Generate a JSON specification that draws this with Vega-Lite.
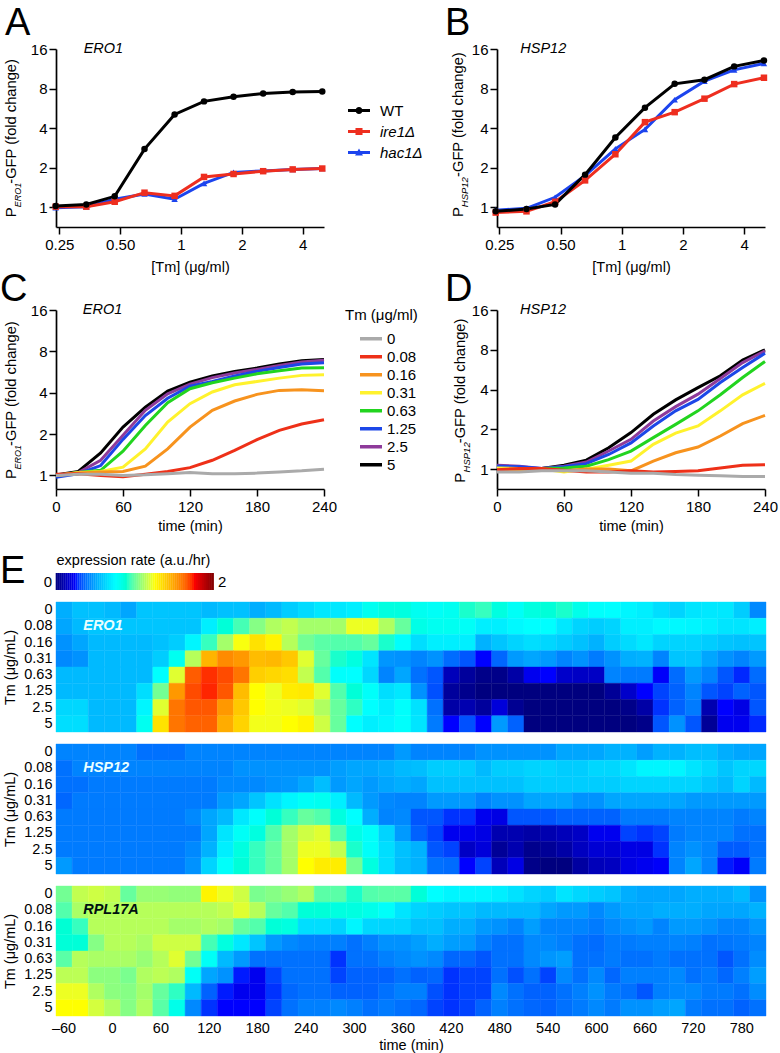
{"$schema":"https://vega.github.io/schema/vega-lite/v6.json","background":"white","padding":{"left":0,"top":5,"right":5,"bottom":5},"spacing":-3,
"config":{"font":"Liberation Sans","view":{"stroke":null},"axis":{"grid":false,"domainColor":"black","domainWidth":1.7,"tickColor":"black","tickWidth":1.5,"tickSize":7,"labelFont":"Liberation Sans","labelFontSize":15,"labelColor":"black","labelPadding":2,"titleFont":"Liberation Sans","titleFontSize":14.5,"titleFontWeight":"normal","titleColor":"black"},"title":{"font":"Liberation Sans","fontSize":38,"fontWeight":"normal","anchor":"start","frame":"group","color":"black"},"legend":{"labelFont":"Liberation Sans","labelFontSize":15,"labelColor":"black","titleFont":"Liberation Sans","titleFontSize":15,"titleFontWeight":"normal","titleColor":"black"}},
"datasets":{
"dose":[{"s":"hac1Δ","x":0.24,"A":0.99,"B":0.95},{"s":"hac1Δ","x":0.34,"A":1.01,"B":0.98},{"s":"hac1Δ","x":0.47,"A":1.15,"B":1.19},{"s":"hac1Δ","x":0.66,"A":1.26,"B":1.74},{"s":"hac1Δ","x":0.93,"A":1.15,"B":2.78},{"s":"hac1Δ","x":1.3,"A":1.52,"B":3.91},{"s":"hac1Δ","x":1.82,"A":1.84,"B":6.58},{"s":"hac1Δ","x":2.55,"A":1.89,"B":9.1},{"s":"hac1Δ","x":3.57,"A":1.94,"B":11.1},{"s":"hac1Δ","x":5.0,"A":1.97,"B":12.4},
{"s":"ire1Δ","x":0.24,"A":1.01,"B":0.91},{"s":"ire1Δ","x":0.34,"A":1.01,"B":0.93},{"s":"ire1Δ","x":0.47,"A":1.1,"B":1.1},{"s":"ire1Δ","x":0.66,"A":1.29,"B":1.6},{"s":"ire1Δ","x":0.93,"A":1.22,"B":2.53},{"s":"ire1Δ","x":1.3,"A":1.7,"B":4.44},{"s":"ire1Δ","x":1.82,"A":1.79,"B":5.29},{"s":"ire1Δ","x":2.55,"A":1.88,"B":6.7},{"s":"ire1Δ","x":3.57,"A":1.94,"B":8.65},{"s":"ire1Δ","x":5.0,"A":1.97,"B":9.67},
{"s":"WT","x":0.24,"A":1.02,"B":0.93},{"s":"WT","x":0.34,"A":1.05,"B":0.97},{"s":"WT","x":0.47,"A":1.21,"B":1.05},{"s":"WT","x":0.66,"A":2.77,"B":1.77},{"s":"WT","x":0.93,"A":5.08,"B":3.39},{"s":"WT","x":1.3,"A":6.39,"B":5.72},{"s":"WT","x":1.82,"A":6.94,"B":8.69},{"s":"WT","x":2.55,"A":7.35,"B":9.34},{"s":"WT","x":3.57,"A":7.52,"B":11.8},{"s":"WT","x":5.0,"A":7.6,"B":13.1}],
"time":[{"c":"5","t":0,"C":1.01,"D":1.0},{"c":"5","t":20,"C":1.07,"D":1.01},{"c":"5","t":40,"C":1.46,"D":1.01},{"c":"5","t":60,"C":2.25,"D":1.07},{"c":"5","t":80,"C":3.14,"D":1.17},{"c":"5","t":100,"C":4.11,"D":1.45},{"c":"5","t":120,"C":4.78,"D":1.89},{"c":"5","t":140,"C":5.29,"D":2.6},{"c":"5","t":160,"C":5.72,"D":3.34},{"c":"5","t":180,"C":6.05,"D":4.14},{"c":"5","t":200,"C":6.47,"D":5.08},{"c":"5","t":220,"C":6.83,"D":6.68},{"c":"5","t":240,"C":6.98,"D":8.0},
{"c":"2.5","t":0,"C":1.0,"D":1.07},{"c":"2.5","t":20,"C":1.05,"D":1.05},{"c":"2.5","t":40,"C":1.29,"D":1.01},{"c":"2.5","t":60,"C":1.96,"D":1.05},{"c":"2.5","t":80,"C":2.98,"D":1.13},{"c":"2.5","t":100,"C":3.93,"D":1.37},{"c":"2.5","t":120,"C":4.62,"D":1.68},{"c":"2.5","t":140,"C":5.15,"D":2.31},{"c":"2.5","t":160,"C":5.56,"D":2.97},{"c":"2.5","t":180,"C":5.91,"D":3.69},{"c":"2.5","t":200,"C":6.32,"D":4.85},{"c":"2.5","t":220,"C":6.7,"D":6.4},{"c":"2.5","t":240,"C":6.88,"D":7.85},
{"c":"1.25","t":0,"C":0.97,"D":1.05},{"c":"1.25","t":20,"C":1.03,"D":1.04},{"c":"1.25","t":40,"C":1.18,"D":1.01},{"c":"1.25","t":60,"C":1.83,"D":1.04},{"c":"1.25","t":80,"C":2.73,"D":1.1},{"c":"1.25","t":100,"C":3.65,"D":1.29},{"c":"1.25","t":120,"C":4.47,"D":1.58},{"c":"1.25","t":140,"C":4.84,"D":2.12},{"c":"1.25","t":160,"C":5.29,"D":2.76},{"c":"1.25","t":180,"C":5.72,"D":3.37},{"c":"1.25","t":200,"C":6.11,"D":4.52},{"c":"1.25","t":220,"C":6.47,"D":5.87},{"c":"1.25","t":240,"C":6.62,"D":7.53},
{"c":"0.63","t":0,"C":1.0,"D":1.0},{"c":"0.63","t":20,"C":1.05,"D":1.01},{"c":"0.63","t":40,"C":1.09,"D":1.01},{"c":"0.63","t":60,"C":1.5,"D":1.02},{"c":"0.63","t":80,"C":2.31,"D":1.05},{"c":"0.63","t":100,"C":3.38,"D":1.18},{"c":"0.63","t":120,"C":4.28,"D":1.37},{"c":"0.63","t":140,"C":4.73,"D":1.73},{"c":"0.63","t":160,"C":5.11,"D":2.18},{"c":"0.63","t":180,"C":5.49,"D":2.76},{"c":"0.63","t":200,"C":5.78,"D":3.65},{"c":"0.63","t":220,"C":6.05,"D":4.93},{"c":"0.63","t":240,"C":6.08,"D":6.53},
{"c":"0.31","t":0,"C":1.0,"D":1.02},{"c":"0.31","t":20,"C":1.05,"D":1.01},{"c":"0.31","t":40,"C":1.07,"D":1.0},{"c":"0.31","t":60,"C":1.15,"D":0.95},{"c":"0.31","t":80,"C":1.56,"D":1.0},{"c":"0.31","t":100,"C":2.45,"D":1.07},{"c":"0.31","t":120,"C":3.33,"D":1.15},{"c":"0.31","t":140,"C":4.05,"D":1.54},{"c":"0.31","t":160,"C":4.57,"D":1.87},{"c":"0.31","t":180,"C":4.83,"D":2.12},{"c":"0.31","t":200,"C":5.11,"D":2.76},{"c":"0.31","t":220,"C":5.35,"D":3.65},{"c":"0.31","t":240,"C":5.41,"D":4.46},
{"c":"0.16","t":0,"C":1.0,"D":0.98},{"c":"0.16","t":20,"C":1.04,"D":0.99},{"c":"0.16","t":40,"C":1.06,"D":1.0},{"c":"0.16","t":60,"C":1.07,"D":0.97},{"c":"0.16","t":80,"C":1.17,"D":1.0},{"c":"0.16","t":100,"C":1.56,"D":1.0},{"c":"0.16","t":120,"C":2.25,"D":0.97},{"c":"0.16","t":140,"C":2.98,"D":1.15},{"c":"0.16","t":160,"C":3.48,"D":1.33},{"c":"0.16","t":180,"C":3.89,"D":1.47},{"c":"0.16","t":200,"C":4.16,"D":1.78},{"c":"0.16","t":220,"C":4.2,"D":2.21},{"c":"0.16","t":240,"C":4.14,"D":2.55},
{"c":"0.08","t":0,"C":1.02,"D":0.99},{"c":"0.08","t":20,"C":1.03,"D":1.01},{"c":"0.08","t":40,"C":1.0,"D":1.01},{"c":"0.08","t":60,"C":0.98,"D":0.98},{"c":"0.08","t":80,"C":1.02,"D":0.95},{"c":"0.08","t":100,"C":1.07,"D":0.95},{"c":"0.08","t":120,"C":1.14,"D":0.97},{"c":"0.08","t":140,"C":1.29,"D":0.95},{"c":"0.08","t":160,"C":1.52,"D":0.96},{"c":"0.08","t":180,"C":1.82,"D":0.97},{"c":"0.08","t":200,"C":2.13,"D":1.02},{"c":"0.08","t":220,"C":2.37,"D":1.07},{"c":"0.08","t":240,"C":2.54,"D":1.08},
{"c":"0","t":0,"C":1.0,"D":0.95},{"c":"0","t":20,"C":1.02,"D":0.95},{"c":"0","t":40,"C":1.02,"D":0.97},{"c":"0","t":60,"C":1.0,"D":0.97},{"c":"0","t":80,"C":1.01,"D":0.97},{"c":"0","t":100,"C":1.03,"D":0.95},{"c":"0","t":120,"C":1.05,"D":0.93},{"c":"0","t":140,"C":1.03,"D":0.93},{"c":"0","t":160,"C":1.03,"D":0.91},{"c":"0","t":180,"C":1.04,"D":0.9},{"c":"0","t":200,"C":1.06,"D":0.89},{"c":"0","t":220,"C":1.08,"D":0.88},{"c":"0","t":240,"C":1.11,"D":0.88}],
"bar":[{"v":0.01},{"v":0.035},{"v":0.06},{"v":0.085},{"v":0.11},{"v":0.135},{"v":0.16},{"v":0.185},{"v":0.21},{"v":0.235},{"v":0.26},{"v":0.285},{"v":0.31},{"v":0.335},{"v":0.36},{"v":0.385},{"v":0.41},{"v":0.435},{"v":0.46},{"v":0.485},{"v":0.51},{"v":0.535},{"v":0.56},{"v":0.585},{"v":0.61},{"v":0.635},{"v":0.66},{"v":0.685},{"v":0.71},{"v":0.735},{"v":0.76},{"v":0.785},{"v":0.81},{"v":0.835},{"v":0.86},{"v":0.885},{"v":0.91},{"v":0.935},{"v":0.96},{"v":0.985},{"v":1.01},{"v":1.035},{"v":1.06},{"v":1.085},{"v":1.11},{"v":1.135},{"v":1.16},{"v":1.185},{"v":1.21},{"v":1.235},{"v":1.26},{"v":1.285},{"v":1.31},{"v":1.335},{"v":1.36},{"v":1.385},{"v":1.41},{"v":1.435},{"v":1.46},{"v":1.485},{"v":1.51},{"v":1.535},{"v":1.56},{"v":1.585},{"v":1.61},{"v":1.635},{"v":1.66},{"v":1.685},{"v":1.71},{"v":1.735},{"v":1.76},{"v":1.785},{"v":1.81},{"v":1.835},{"v":1.86},{"v":1.885},{"v":1.91},{"v":1.935},{"v":1.96},{"v":1.985}],
"ero":[
{"t":-60,"c":"0","v":0.52},{"t":-40,"c":"0","v":0.57},{"t":-20,"c":"0","v":0.57},{"t":0,"c":"0","v":0.55},{"t":20,"c":"0","v":0.5},{"t":40,"c":"0","v":0.58},{"t":60,"c":"0","v":0.58},{"t":80,"c":"0","v":0.58},{"t":100,"c":"0","v":0.58},{"t":120,"c":"0","v":0.55},{"t":140,"c":"0","v":0.57},{"t":160,"c":"0","v":0.57},{"t":180,"c":"0","v":0.52},{"t":200,"c":"0","v":0.55},{"t":220,"c":"0","v":0.6},{"t":240,"c":"0","v":0.64},{"t":260,"c":"0","v":0.68},{"t":280,"c":"0","v":0.68},{"t":300,"c":"0","v":0.7},{"t":320,"c":"0","v":0.8},{"t":340,"c":"0","v":0.85},{"t":360,"c":"0","v":0.85},{"t":380,"c":"0","v":0.8},{"t":400,"c":"0","v":0.78},{"t":420,"c":"0","v":0.8},{"t":440,"c":"0","v":0.9},{"t":460,"c":"0","v":0.93},{"t":480,"c":"0","v":0.85},{"t":500,"c":"0","v":0.78},{"t":520,"c":"0","v":0.85},{"t":540,"c":"0","v":0.87},{"t":560,"c":"0","v":0.9},{"t":580,"c":"0","v":0.82},{"t":600,"c":"0","v":0.76},{"t":620,"c":"0","v":0.75},{"t":640,"c":"0","v":0.72},{"t":660,"c":"0","v":0.7},{"t":680,"c":"0","v":0.65},{"t":700,"c":"0","v":0.62},{"t":720,"c":"0","v":0.67},{"t":740,"c":"0","v":0.68},{"t":760,"c":"0","v":0.68},{"t":780,"c":"0","v":0.6},{"t":800,"c":"0","v":0.43},
{"t":-60,"c":"0.08","v":0.5},{"t":-40,"c":"0.08","v":0.55},{"t":-20,"c":"0.08","v":0.58},{"t":0,"c":"0.08","v":0.58},{"t":20,"c":"0.08","v":0.58},{"t":40,"c":"0.08","v":0.58},{"t":60,"c":"0.08","v":0.58},{"t":80,"c":"0.08","v":0.58},{"t":100,"c":"0.08","v":0.58},{"t":120,"c":"0.08","v":0.7},{"t":140,"c":"0.08","v":0.87},{"t":160,"c":"0.08","v":0.95},{"t":180,"c":"0.08","v":1.05},{"t":200,"c":"0.08","v":1.12},{"t":220,"c":"0.08","v":1.15},{"t":240,"c":"0.08","v":1.1},{"t":260,"c":"0.08","v":1.1},{"t":280,"c":"0.08","v":1.1},{"t":300,"c":"0.08","v":1.22},{"t":320,"c":"0.08","v":1.22},{"t":340,"c":"0.08","v":1.12},{"t":360,"c":"0.08","v":1.0},{"t":380,"c":"0.08","v":0.83},{"t":400,"c":"0.08","v":0.8},{"t":420,"c":"0.08","v":0.8},{"t":440,"c":"0.08","v":0.78},{"t":460,"c":"0.08","v":0.7},{"t":480,"c":"0.08","v":0.7},{"t":500,"c":"0.08","v":0.73},{"t":520,"c":"0.08","v":0.75},{"t":540,"c":"0.08","v":0.75},{"t":560,"c":"0.08","v":0.68},{"t":580,"c":"0.08","v":0.62},{"t":600,"c":"0.08","v":0.6},{"t":620,"c":"0.08","v":0.62},{"t":640,"c":"0.08","v":0.7},{"t":660,"c":"0.08","v":0.7},{"t":680,"c":"0.08","v":0.73},{"t":700,"c":"0.08","v":0.73},{"t":720,"c":"0.08","v":0.72},{"t":740,"c":"0.08","v":0.7},{"t":760,"c":"0.08","v":0.67},{"t":780,"c":"0.08","v":0.67},{"t":800,"c":"0.08","v":0.7},
{"t":-60,"c":"0.16","v":0.45},{"t":-40,"c":"0.16","v":0.5},{"t":-20,"c":"0.16","v":0.55},{"t":0,"c":"0.16","v":0.55},{"t":20,"c":"0.16","v":0.55},{"t":40,"c":"0.16","v":0.55},{"t":60,"c":"0.16","v":0.57},{"t":80,"c":"0.16","v":0.6},{"t":100,"c":"0.16","v":0.72},{"t":120,"c":"0.16","v":0.93},{"t":140,"c":"0.16","v":1.1},{"t":160,"c":"0.16","v":1.24},{"t":180,"c":"0.16","v":1.33},{"t":200,"c":"0.16","v":1.28},{"t":220,"c":"0.16","v":1.13},{"t":240,"c":"0.16","v":1.02},{"t":260,"c":"0.16","v":0.98},{"t":280,"c":"0.16","v":0.97},{"t":300,"c":"0.16","v":0.97},{"t":320,"c":"0.16","v":1.0},{"t":340,"c":"0.16","v":0.9},{"t":360,"c":"0.16","v":0.76},{"t":380,"c":"0.16","v":0.65},{"t":400,"c":"0.16","v":0.7},{"t":420,"c":"0.16","v":0.7},{"t":440,"c":"0.16","v":0.7},{"t":460,"c":"0.16","v":0.53},{"t":480,"c":"0.16","v":0.58},{"t":500,"c":"0.16","v":0.62},{"t":520,"c":"0.16","v":0.65},{"t":540,"c":"0.16","v":0.63},{"t":560,"c":"0.16","v":0.6},{"t":580,"c":"0.16","v":0.57},{"t":600,"c":"0.16","v":0.53},{"t":620,"c":"0.16","v":0.6},{"t":640,"c":"0.16","v":0.64},{"t":660,"c":"0.16","v":0.68},{"t":680,"c":"0.16","v":0.62},{"t":700,"c":"0.16","v":0.62},{"t":720,"c":"0.16","v":0.62},{"t":740,"c":"0.16","v":0.6},{"t":760,"c":"0.16","v":0.58},{"t":780,"c":"0.16","v":0.57},{"t":800,"c":"0.16","v":0.58},
{"t":-60,"c":"0.31","v":0.43},{"t":-40,"c":"0.31","v":0.45},{"t":-20,"c":"0.31","v":0.55},{"t":0,"c":"0.31","v":0.55},{"t":20,"c":"0.31","v":0.55},{"t":40,"c":"0.31","v":0.55},{"t":60,"c":"0.31","v":0.6},{"t":80,"c":"0.31","v":0.8},{"t":100,"c":"0.31","v":1.13},{"t":120,"c":"0.31","v":1.45},{"t":140,"c":"0.31","v":1.55},{"t":160,"c":"0.31","v":1.52},{"t":180,"c":"0.31","v":1.43},{"t":200,"c":"0.31","v":1.44},{"t":220,"c":"0.31","v":1.4},{"t":240,"c":"0.31","v":1.2},{"t":260,"c":"0.31","v":1.0},{"t":280,"c":"0.31","v":0.9},{"t":300,"c":"0.31","v":0.85},{"t":320,"c":"0.31","v":0.67},{"t":340,"c":"0.31","v":0.46},{"t":360,"c":"0.31","v":0.45},{"t":380,"c":"0.31","v":0.42},{"t":400,"c":"0.31","v":0.45},{"t":420,"c":"0.31","v":0.37},{"t":440,"c":"0.31","v":0.33},{"t":460,"c":"0.31","v":0.25},{"t":480,"c":"0.31","v":0.36},{"t":500,"c":"0.31","v":0.47},{"t":520,"c":"0.31","v":0.5},{"t":540,"c":"0.31","v":0.47},{"t":560,"c":"0.31","v":0.42},{"t":580,"c":"0.31","v":0.45},{"t":600,"c":"0.31","v":0.4},{"t":620,"c":"0.31","v":0.45},{"t":640,"c":"0.31","v":0.52},{"t":660,"c":"0.31","v":0.53},{"t":680,"c":"0.31","v":0.42},{"t":700,"c":"0.31","v":0.58},{"t":720,"c":"0.31","v":0.58},{"t":740,"c":"0.31","v":0.5},{"t":760,"c":"0.31","v":0.45},{"t":780,"c":"0.31","v":0.42},{"t":800,"c":"0.31","v":0.47},
{"t":-60,"c":"0.63","v":0.55},{"t":-40,"c":"0.63","v":0.55},{"t":-20,"c":"0.63","v":0.55},{"t":0,"c":"0.63","v":0.55},{"t":20,"c":"0.63","v":0.55},{"t":40,"c":"0.63","v":0.55},{"t":60,"c":"0.63","v":0.75},{"t":80,"c":"0.63","v":1.2},{"t":100,"c":"0.63","v":1.65},{"t":120,"c":"0.63","v":1.72},{"t":140,"c":"0.63","v":1.68},{"t":160,"c":"0.63","v":1.6},{"t":180,"c":"0.63","v":1.38},{"t":200,"c":"0.63","v":1.36},{"t":220,"c":"0.63","v":1.34},{"t":240,"c":"0.63","v":1.15},{"t":260,"c":"0.63","v":0.97},{"t":280,"c":"0.63","v":0.76},{"t":300,"c":"0.63","v":0.75},{"t":320,"c":"0.63","v":0.63},{"t":340,"c":"0.63","v":0.42},{"t":360,"c":"0.63","v":0.5},{"t":380,"c":"0.63","v":0.38},{"t":400,"c":"0.63","v":0.33},{"t":420,"c":"0.63","v":0.12},{"t":440,"c":"0.63","v":0.06},{"t":460,"c":"0.63","v":0.02},{"t":480,"c":"0.63","v":0.02},{"t":500,"c":"0.63","v":0.08},{"t":520,"c":"0.63","v":0.22},{"t":540,"c":"0.63","v":0.25},{"t":560,"c":"0.63","v":0.15},{"t":580,"c":"0.63","v":0.14},{"t":600,"c":"0.63","v":0.14},{"t":620,"c":"0.63","v":0.42},{"t":640,"c":"0.63","v":0.4},{"t":660,"c":"0.63","v":0.4},{"t":680,"c":"0.63","v":0.24},{"t":700,"c":"0.63","v":0.37},{"t":720,"c":"0.63","v":0.47},{"t":740,"c":"0.63","v":0.42},{"t":760,"c":"0.63","v":0.33},{"t":780,"c":"0.63","v":0.27},{"t":800,"c":"0.63","v":0.37},
{"t":-60,"c":"1.25","v":0.55},{"t":-40,"c":"1.25","v":0.55},{"t":-20,"c":"1.25","v":0.55},{"t":0,"c":"1.25","v":0.55},{"t":20,"c":"1.25","v":0.55},{"t":40,"c":"1.25","v":0.65},{"t":60,"c":"1.25","v":1.02},{"t":80,"c":"1.25","v":1.52},{"t":100,"c":"1.25","v":1.68},{"t":120,"c":"1.25","v":1.73},{"t":140,"c":"1.25","v":1.66},{"t":160,"c":"1.25","v":1.43},{"t":180,"c":"1.25","v":1.25},{"t":200,"c":"1.25","v":1.22},{"t":220,"c":"1.25","v":1.3},{"t":240,"c":"1.25","v":1.31},{"t":260,"c":"1.25","v":1.2},{"t":280,"c":"1.25","v":0.97},{"t":300,"c":"1.25","v":0.87},{"t":320,"c":"1.25","v":0.77},{"t":340,"c":"1.25","v":0.65},{"t":360,"c":"1.25","v":0.68},{"t":380,"c":"1.25","v":0.45},{"t":400,"c":"1.25","v":0.32},{"t":420,"c":"1.25","v":0.06},{"t":440,"c":"1.25","v":0.03},{"t":460,"c":"1.25","v":0.0},{"t":480,"c":"1.25","v":0.0},{"t":500,"c":"1.25","v":0.0},{"t":520,"c":"1.25","v":0.0},{"t":540,"c":"1.25","v":0.0},{"t":560,"c":"1.25","v":0.0},{"t":580,"c":"1.25","v":0.0},{"t":600,"c":"1.25","v":0.0},{"t":620,"c":"1.25","v":0.05},{"t":640,"c":"1.25","v":0.15},{"t":660,"c":"1.25","v":0.25},{"t":680,"c":"1.25","v":0.3},{"t":700,"c":"1.25","v":0.35},{"t":720,"c":"1.25","v":0.42},{"t":740,"c":"1.25","v":0.33},{"t":760,"c":"1.25","v":0.3},{"t":780,"c":"1.25","v":0.35},{"t":800,"c":"1.25","v":0.33},
{"t":-60,"c":"2.5","v":0.63},{"t":-40,"c":"2.5","v":0.63},{"t":-20,"c":"2.5","v":0.55},{"t":0,"c":"2.5","v":0.55},{"t":20,"c":"2.5","v":0.55},{"t":40,"c":"2.5","v":0.72},{"t":60,"c":"2.5","v":1.2},{"t":80,"c":"2.5","v":1.6},{"t":100,"c":"2.5","v":1.66},{"t":120,"c":"2.5","v":1.66},{"t":140,"c":"2.5","v":1.52},{"t":160,"c":"2.5","v":1.4},{"t":180,"c":"2.5","v":1.25},{"t":200,"c":"2.5","v":1.23},{"t":220,"c":"2.5","v":1.22},{"t":240,"c":"2.5","v":1.2},{"t":260,"c":"2.5","v":1.12},{"t":280,"c":"2.5","v":1.0},{"t":300,"c":"2.5","v":0.92},{"t":320,"c":"2.5","v":0.75},{"t":340,"c":"2.5","v":0.7},{"t":360,"c":"2.5","v":0.76},{"t":380,"c":"2.5","v":0.66},{"t":400,"c":"2.5","v":0.38},{"t":420,"c":"2.5","v":0.08},{"t":440,"c":"2.5","v":0.1},{"t":460,"c":"2.5","v":0.06},{"t":480,"c":"2.5","v":0.18},{"t":500,"c":"2.5","v":0.04},{"t":520,"c":"2.5","v":0.0},{"t":540,"c":"2.5","v":0.0},{"t":560,"c":"2.5","v":0.0},{"t":580,"c":"2.5","v":0.0},{"t":600,"c":"2.5","v":0.0},{"t":620,"c":"2.5","v":0.0},{"t":640,"c":"2.5","v":0.02},{"t":660,"c":"2.5","v":0.08},{"t":680,"c":"2.5","v":0.28},{"t":700,"c":"2.5","v":0.35},{"t":720,"c":"2.5","v":0.4},{"t":740,"c":"2.5","v":0.1},{"t":760,"c":"2.5","v":0.25},{"t":780,"c":"2.5","v":0.2},{"t":800,"c":"2.5","v":0.33},
{"t":-60,"c":"5","v":0.65},{"t":-40,"c":"5","v":0.65},{"t":-20,"c":"5","v":0.55},{"t":0,"c":"5","v":0.55},{"t":20,"c":"5","v":0.55},{"t":40,"c":"5","v":0.8},{"t":60,"c":"5","v":1.33},{"t":80,"c":"5","v":1.6},{"t":100,"c":"5","v":1.64},{"t":120,"c":"5","v":1.64},{"t":140,"c":"5","v":1.47},{"t":160,"c":"5","v":1.37},{"t":180,"c":"5","v":1.23},{"t":200,"c":"5","v":1.23},{"t":220,"c":"5","v":1.25},{"t":240,"c":"5","v":1.28},{"t":260,"c":"5","v":1.17},{"t":280,"c":"5","v":1.0},{"t":300,"c":"5","v":0.75},{"t":320,"c":"5","v":0.7},{"t":340,"c":"5","v":0.72},{"t":360,"c":"5","v":0.76},{"t":380,"c":"5","v":0.67},{"t":400,"c":"5","v":0.4},{"t":420,"c":"5","v":0.25},{"t":440,"c":"5","v":0.32},{"t":460,"c":"5","v":0.25},{"t":480,"c":"5","v":0.47},{"t":500,"c":"5","v":0.35},{"t":520,"c":"5","v":0.0},{"t":540,"c":"5","v":0.0},{"t":560,"c":"5","v":0.0},{"t":580,"c":"5","v":0.0},{"t":600,"c":"5","v":0.0},{"t":620,"c":"5","v":0.0},{"t":640,"c":"5","v":0.0},{"t":660,"c":"5","v":0.02},{"t":680,"c":"5","v":0.33},{"t":700,"c":"5","v":0.45},{"t":720,"c":"5","v":0.33},{"t":740,"c":"5","v":0.05},{"t":760,"c":"5","v":0.22},{"t":780,"c":"5","v":0.22},{"t":800,"c":"5","v":0.27}],
"hsp":[
{"t":-60,"c":"0","v":0.42},{"t":-40,"c":"0","v":0.42},{"t":-20,"c":"0","v":0.42},{"t":0,"c":"0","v":0.42},{"t":20,"c":"0","v":0.42},{"t":40,"c":"0","v":0.38},{"t":60,"c":"0","v":0.38},{"t":80,"c":"0","v":0.38},{"t":100,"c":"0","v":0.42},{"t":120,"c":"0","v":0.42},{"t":140,"c":"0","v":0.42},{"t":160,"c":"0","v":0.42},{"t":180,"c":"0","v":0.42},{"t":200,"c":"0","v":0.42},{"t":220,"c":"0","v":0.42},{"t":240,"c":"0","v":0.42},{"t":260,"c":"0","v":0.42},{"t":280,"c":"0","v":0.42},{"t":300,"c":"0","v":0.42},{"t":320,"c":"0","v":0.42},{"t":340,"c":"0","v":0.42},{"t":360,"c":"0","v":0.47},{"t":380,"c":"0","v":0.42},{"t":400,"c":"0","v":0.42},{"t":420,"c":"0","v":0.42},{"t":440,"c":"0","v":0.42},{"t":460,"c":"0","v":0.45},{"t":480,"c":"0","v":0.45},{"t":500,"c":"0","v":0.45},{"t":520,"c":"0","v":0.45},{"t":540,"c":"0","v":0.45},{"t":560,"c":"0","v":0.5},{"t":580,"c":"0","v":0.5},{"t":600,"c":"0","v":0.5},{"t":620,"c":"0","v":0.53},{"t":640,"c":"0","v":0.53},{"t":660,"c":"0","v":0.48},{"t":680,"c":"0","v":0.53},{"t":700,"c":"0","v":0.53},{"t":720,"c":"0","v":0.56},{"t":740,"c":"0","v":0.56},{"t":760,"c":"0","v":0.52},{"t":780,"c":"0","v":0.5},{"t":800,"c":"0","v":0.5},
{"t":-60,"c":"0.08","v":0.38},{"t":-40,"c":"0.08","v":0.42},{"t":-20,"c":"0.08","v":0.42},{"t":0,"c":"0.08","v":0.42},{"t":20,"c":"0.08","v":0.42},{"t":40,"c":"0.08","v":0.42},{"t":60,"c":"0.08","v":0.42},{"t":80,"c":"0.08","v":0.42},{"t":100,"c":"0.08","v":0.42},{"t":120,"c":"0.08","v":0.42},{"t":140,"c":"0.08","v":0.42},{"t":160,"c":"0.08","v":0.45},{"t":180,"c":"0.08","v":0.45},{"t":200,"c":"0.08","v":0.45},{"t":220,"c":"0.08","v":0.45},{"t":240,"c":"0.08","v":0.45},{"t":260,"c":"0.08","v":0.45},{"t":280,"c":"0.08","v":0.48},{"t":300,"c":"0.08","v":0.5},{"t":320,"c":"0.08","v":0.5},{"t":340,"c":"0.08","v":0.52},{"t":360,"c":"0.08","v":0.55},{"t":380,"c":"0.08","v":0.56},{"t":400,"c":"0.08","v":0.6},{"t":420,"c":"0.08","v":0.6},{"t":440,"c":"0.08","v":0.6},{"t":460,"c":"0.08","v":0.55},{"t":480,"c":"0.08","v":0.6},{"t":500,"c":"0.08","v":0.6},{"t":520,"c":"0.08","v":0.62},{"t":540,"c":"0.08","v":0.62},{"t":560,"c":"0.08","v":0.6},{"t":580,"c":"0.08","v":0.6},{"t":600,"c":"0.08","v":0.63},{"t":620,"c":"0.08","v":0.63},{"t":640,"c":"0.08","v":0.67},{"t":660,"c":"0.08","v":0.72},{"t":680,"c":"0.08","v":0.72},{"t":700,"c":"0.08","v":0.72},{"t":720,"c":"0.08","v":0.67},{"t":740,"c":"0.08","v":0.63},{"t":760,"c":"0.08","v":0.58},{"t":780,"c":"0.08","v":0.62},{"t":800,"c":"0.08","v":0.63},
{"t":-60,"c":"0.16","v":0.38},{"t":-40,"c":"0.16","v":0.38},{"t":-20,"c":"0.16","v":0.4},{"t":0,"c":"0.16","v":0.4},{"t":20,"c":"0.16","v":0.4},{"t":40,"c":"0.16","v":0.4},{"t":60,"c":"0.16","v":0.4},{"t":80,"c":"0.16","v":0.4},{"t":100,"c":"0.16","v":0.4},{"t":120,"c":"0.16","v":0.4},{"t":140,"c":"0.16","v":0.43},{"t":160,"c":"0.16","v":0.43},{"t":180,"c":"0.16","v":0.43},{"t":200,"c":"0.16","v":0.45},{"t":220,"c":"0.16","v":0.46},{"t":240,"c":"0.16","v":0.5},{"t":260,"c":"0.16","v":0.56},{"t":280,"c":"0.16","v":0.47},{"t":300,"c":"0.16","v":0.5},{"t":320,"c":"0.16","v":0.47},{"t":340,"c":"0.16","v":0.5},{"t":360,"c":"0.16","v":0.52},{"t":380,"c":"0.16","v":0.5},{"t":400,"c":"0.16","v":0.57},{"t":420,"c":"0.16","v":0.57},{"t":440,"c":"0.16","v":0.57},{"t":460,"c":"0.16","v":0.57},{"t":480,"c":"0.16","v":0.57},{"t":500,"c":"0.16","v":0.57},{"t":520,"c":"0.16","v":0.6},{"t":540,"c":"0.16","v":0.6},{"t":560,"c":"0.16","v":0.6},{"t":580,"c":"0.16","v":0.6},{"t":600,"c":"0.16","v":0.6},{"t":620,"c":"0.16","v":0.6},{"t":640,"c":"0.16","v":0.62},{"t":660,"c":"0.16","v":0.62},{"t":680,"c":"0.16","v":0.62},{"t":700,"c":"0.16","v":0.62},{"t":720,"c":"0.16","v":0.62},{"t":740,"c":"0.16","v":0.58},{"t":760,"c":"0.16","v":0.55},{"t":780,"c":"0.16","v":0.62},{"t":800,"c":"0.16","v":0.55},
{"t":-60,"c":"0.31","v":0.36},{"t":-40,"c":"0.31","v":0.4},{"t":-20,"c":"0.31","v":0.4},{"t":0,"c":"0.31","v":0.4},{"t":20,"c":"0.31","v":0.4},{"t":40,"c":"0.31","v":0.4},{"t":60,"c":"0.31","v":0.4},{"t":80,"c":"0.31","v":0.4},{"t":100,"c":"0.31","v":0.4},{"t":120,"c":"0.31","v":0.4},{"t":140,"c":"0.31","v":0.47},{"t":160,"c":"0.31","v":0.5},{"t":180,"c":"0.31","v":0.58},{"t":200,"c":"0.31","v":0.66},{"t":220,"c":"0.31","v":0.72},{"t":240,"c":"0.31","v":0.78},{"t":260,"c":"0.31","v":0.8},{"t":280,"c":"0.31","v":0.7},{"t":300,"c":"0.31","v":0.55},{"t":320,"c":"0.31","v":0.47},{"t":340,"c":"0.31","v":0.43},{"t":360,"c":"0.31","v":0.42},{"t":380,"c":"0.31","v":0.42},{"t":400,"c":"0.31","v":0.47},{"t":420,"c":"0.31","v":0.47},{"t":440,"c":"0.31","v":0.47},{"t":460,"c":"0.31","v":0.42},{"t":480,"c":"0.31","v":0.45},{"t":500,"c":"0.31","v":0.45},{"t":520,"c":"0.31","v":0.5},{"t":540,"c":"0.31","v":0.5},{"t":560,"c":"0.31","v":0.5},{"t":580,"c":"0.31","v":0.45},{"t":600,"c":"0.31","v":0.45},{"t":620,"c":"0.31","v":0.5},{"t":640,"c":"0.31","v":0.5},{"t":660,"c":"0.31","v":0.5},{"t":680,"c":"0.31","v":0.5},{"t":700,"c":"0.31","v":0.5},{"t":720,"c":"0.31","v":0.47},{"t":740,"c":"0.31","v":0.47},{"t":760,"c":"0.31","v":0.47},{"t":780,"c":"0.31","v":0.47},{"t":800,"c":"0.31","v":0.47},
{"t":-60,"c":"0.63","v":0.4},{"t":-40,"c":"0.63","v":0.4},{"t":-20,"c":"0.63","v":0.4},{"t":0,"c":"0.63","v":0.4},{"t":20,"c":"0.63","v":0.4},{"t":40,"c":"0.63","v":0.4},{"t":60,"c":"0.63","v":0.4},{"t":80,"c":"0.63","v":0.4},{"t":100,"c":"0.63","v":0.43},{"t":120,"c":"0.63","v":0.5},{"t":140,"c":"0.63","v":0.55},{"t":160,"c":"0.63","v":0.68},{"t":180,"c":"0.63","v":0.76},{"t":200,"c":"0.63","v":0.87},{"t":220,"c":"0.63","v":0.93},{"t":240,"c":"0.63","v":1.0},{"t":260,"c":"0.63","v":0.97},{"t":280,"c":"0.63","v":0.85},{"t":300,"c":"0.63","v":0.75},{"t":320,"c":"0.63","v":0.52},{"t":340,"c":"0.63","v":0.42},{"t":360,"c":"0.63","v":0.43},{"t":380,"c":"0.63","v":0.33},{"t":400,"c":"0.63","v":0.33},{"t":420,"c":"0.63","v":0.28},{"t":440,"c":"0.63","v":0.28},{"t":460,"c":"0.63","v":0.22},{"t":480,"c":"0.63","v":0.2},{"t":500,"c":"0.63","v":0.33},{"t":520,"c":"0.63","v":0.33},{"t":540,"c":"0.63","v":0.33},{"t":560,"c":"0.63","v":0.35},{"t":580,"c":"0.63","v":0.35},{"t":600,"c":"0.63","v":0.35},{"t":620,"c":"0.63","v":0.35},{"t":640,"c":"0.63","v":0.4},{"t":660,"c":"0.63","v":0.4},{"t":680,"c":"0.63","v":0.4},{"t":700,"c":"0.63","v":0.42},{"t":720,"c":"0.63","v":0.42},{"t":740,"c":"0.63","v":0.42},{"t":760,"c":"0.63","v":0.42},{"t":780,"c":"0.63","v":0.4},{"t":800,"c":"0.63","v":0.42},
{"t":-60,"c":"1.25","v":0.4},{"t":-40,"c":"1.25","v":0.4},{"t":-20,"c":"1.25","v":0.4},{"t":0,"c":"1.25","v":0.4},{"t":20,"c":"1.25","v":0.4},{"t":40,"c":"1.25","v":0.4},{"t":60,"c":"1.25","v":0.4},{"t":80,"c":"1.25","v":0.4},{"t":100,"c":"1.25","v":0.4},{"t":120,"c":"1.25","v":0.5},{"t":140,"c":"1.25","v":0.67},{"t":160,"c":"1.25","v":0.78},{"t":180,"c":"1.25","v":0.85},{"t":200,"c":"1.25","v":0.97},{"t":220,"c":"1.25","v":1.1},{"t":240,"c":"1.25","v":1.17},{"t":260,"c":"1.25","v":1.2},{"t":280,"c":"1.25","v":0.97},{"t":300,"c":"1.25","v":0.83},{"t":320,"c":"1.25","v":0.77},{"t":340,"c":"1.25","v":0.62},{"t":360,"c":"1.25","v":0.47},{"t":380,"c":"1.25","v":0.35},{"t":400,"c":"1.25","v":0.3},{"t":420,"c":"1.25","v":0.22},{"t":440,"c":"1.25","v":0.22},{"t":460,"c":"1.25","v":0.2},{"t":480,"c":"1.25","v":0.1},{"t":500,"c":"1.25","v":0.1},{"t":520,"c":"1.25","v":0.08},{"t":540,"c":"1.25","v":0.1},{"t":560,"c":"1.25","v":0.12},{"t":580,"c":"1.25","v":0.14},{"t":600,"c":"1.25","v":0.22},{"t":620,"c":"1.25","v":0.22},{"t":640,"c":"1.25","v":0.3},{"t":660,"c":"1.25","v":0.28},{"t":680,"c":"1.25","v":0.3},{"t":700,"c":"1.25","v":0.4},{"t":720,"c":"1.25","v":0.42},{"t":740,"c":"1.25","v":0.42},{"t":760,"c":"1.25","v":0.42},{"t":780,"c":"1.25","v":0.38},{"t":800,"c":"1.25","v":0.38},
{"t":-60,"c":"2.5","v":0.4},{"t":-40,"c":"2.5","v":0.4},{"t":-20,"c":"2.5","v":0.4},{"t":0,"c":"2.5","v":0.4},{"t":20,"c":"2.5","v":0.4},{"t":40,"c":"2.5","v":0.4},{"t":60,"c":"2.5","v":0.4},{"t":80,"c":"2.5","v":0.4},{"t":100,"c":"2.5","v":0.43},{"t":120,"c":"2.5","v":0.53},{"t":140,"c":"2.5","v":0.7},{"t":160,"c":"2.5","v":0.85},{"t":180,"c":"2.5","v":0.93},{"t":200,"c":"2.5","v":1.0},{"t":220,"c":"2.5","v":1.1},{"t":240,"c":"2.5","v":1.22},{"t":260,"c":"2.5","v":1.22},{"t":280,"c":"2.5","v":1.15},{"t":300,"c":"2.5","v":0.9},{"t":320,"c":"2.5","v":0.77},{"t":340,"c":"2.5","v":0.65},{"t":360,"c":"2.5","v":0.57},{"t":380,"c":"2.5","v":0.53},{"t":400,"c":"2.5","v":0.33},{"t":420,"c":"2.5","v":0.3},{"t":440,"c":"2.5","v":0.14},{"t":460,"c":"2.5","v":0.18},{"t":480,"c":"2.5","v":0.05},{"t":500,"c":"2.5","v":0.1},{"t":520,"c":"2.5","v":0.03},{"t":540,"c":"2.5","v":0.05},{"t":560,"c":"2.5","v":0.08},{"t":580,"c":"2.5","v":0.13},{"t":600,"c":"2.5","v":0.17},{"t":620,"c":"2.5","v":0.17},{"t":640,"c":"2.5","v":0.2},{"t":660,"c":"2.5","v":0.2},{"t":680,"c":"2.5","v":0.28},{"t":700,"c":"2.5","v":0.42},{"t":720,"c":"2.5","v":0.45},{"t":740,"c":"2.5","v":0.42},{"t":760,"c":"2.5","v":0.34},{"t":780,"c":"2.5","v":0.34},{"t":800,"c":"2.5","v":0.38},
{"t":-60,"c":"5","v":0.47},{"t":-40,"c":"5","v":0.4},{"t":-20,"c":"5","v":0.4},{"t":0,"c":"5","v":0.4},{"t":20,"c":"5","v":0.4},{"t":40,"c":"5","v":0.4},{"t":60,"c":"5","v":0.4},{"t":80,"c":"5","v":0.4},{"t":100,"c":"5","v":0.45},{"t":120,"c":"5","v":0.62},{"t":140,"c":"5","v":0.77},{"t":160,"c":"5","v":0.87},{"t":180,"c":"5","v":0.93},{"t":200,"c":"5","v":1.0},{"t":220,"c":"5","v":1.1},{"t":240,"c":"5","v":1.25},{"t":260,"c":"5","v":1.3},{"t":280,"c":"5","v":1.3},{"t":300,"c":"5","v":1.02},{"t":320,"c":"5","v":0.85},{"t":340,"c":"5","v":0.65},{"t":360,"c":"5","v":0.56},{"t":380,"c":"5","v":0.53},{"t":400,"c":"5","v":0.38},{"t":420,"c":"5","v":0.37},{"t":440,"c":"5","v":0.25},{"t":460,"c":"5","v":0.3},{"t":480,"c":"5","v":0.12},{"t":500,"c":"5","v":0.2},{"t":520,"c":"5","v":0.02},{"t":540,"c":"5","v":0.0},{"t":560,"c":"5","v":0.0},{"t":580,"c":"5","v":0.07},{"t":600,"c":"5","v":0.12},{"t":620,"c":"5","v":0.13},{"t":640,"c":"5","v":0.2},{"t":660,"c":"5","v":0.22},{"t":680,"c":"5","v":0.24},{"t":700,"c":"5","v":0.42},{"t":720,"c":"5","v":0.5},{"t":740,"c":"5","v":0.42},{"t":760,"c":"5","v":0.26},{"t":780,"c":"5","v":0.24},{"t":800,"c":"5","v":0.4}],
"rpl":[
{"t":-60,"c":"0","v":1.02},{"t":-40,"c":"0","v":1.15},{"t":-20,"c":"0","v":1.17},{"t":0,"c":"0","v":1.15},{"t":20,"c":"0","v":1.0},{"t":40,"c":"0","v":1.08},{"t":60,"c":"0","v":1.08},{"t":80,"c":"0","v":1.07},{"t":100,"c":"0","v":1.07},{"t":120,"c":"0","v":1.28},{"t":140,"c":"0","v":1.22},{"t":160,"c":"0","v":1.17},{"t":180,"c":"0","v":1.03},{"t":200,"c":"0","v":1.05},{"t":220,"c":"0","v":1.08},{"t":240,"c":"0","v":1.12},{"t":260,"c":"0","v":0.98},{"t":280,"c":"0","v":0.98},{"t":300,"c":"0","v":0.9},{"t":320,"c":"0","v":0.97},{"t":340,"c":"0","v":0.98},{"t":360,"c":"0","v":0.98},{"t":380,"c":"0","v":0.87},{"t":400,"c":"0","v":0.75},{"t":420,"c":"0","v":0.72},{"t":440,"c":"0","v":0.72},{"t":460,"c":"0","v":0.72},{"t":480,"c":"0","v":0.7},{"t":500,"c":"0","v":0.66},{"t":520,"c":"0","v":0.62},{"t":540,"c":"0","v":0.6},{"t":560,"c":"0","v":0.67},{"t":580,"c":"0","v":0.63},{"t":600,"c":"0","v":0.6},{"t":620,"c":"0","v":0.58},{"t":640,"c":"0","v":0.52},{"t":660,"c":"0","v":0.5},{"t":680,"c":"0","v":0.5},{"t":700,"c":"0","v":0.5},{"t":720,"c":"0","v":0.52},{"t":740,"c":"0","v":0.52},{"t":760,"c":"0","v":0.52},{"t":780,"c":"0","v":0.55},{"t":800,"c":"0","v":0.45},
{"t":-60,"c":"0.08","v":0.97},{"t":-40,"c":"0.08","v":1.11},{"t":-20,"c":"0.08","v":1.13},{"t":0,"c":"0.08","v":1.13},{"t":20,"c":"0.08","v":1.13},{"t":40,"c":"0.08","v":1.13},{"t":60,"c":"0.08","v":1.13},{"t":80,"c":"0.08","v":1.13},{"t":100,"c":"0.08","v":1.13},{"t":120,"c":"0.08","v":1.13},{"t":140,"c":"0.08","v":1.15},{"t":160,"c":"0.08","v":1.2},{"t":180,"c":"0.08","v":1.13},{"t":200,"c":"0.08","v":1.0},{"t":220,"c":"0.08","v":0.97},{"t":240,"c":"0.08","v":0.87},{"t":260,"c":"0.08","v":0.87},{"t":280,"c":"0.08","v":0.85},{"t":300,"c":"0.08","v":0.85},{"t":320,"c":"0.08","v":0.82},{"t":340,"c":"0.08","v":0.77},{"t":360,"c":"0.08","v":0.67},{"t":380,"c":"0.08","v":0.62},{"t":400,"c":"0.08","v":0.6},{"t":420,"c":"0.08","v":0.58},{"t":440,"c":"0.08","v":0.58},{"t":460,"c":"0.08","v":0.55},{"t":480,"c":"0.08","v":0.55},{"t":500,"c":"0.08","v":0.55},{"t":520,"c":"0.08","v":0.55},{"t":540,"c":"0.08","v":0.5},{"t":560,"c":"0.08","v":0.47},{"t":580,"c":"0.08","v":0.47},{"t":600,"c":"0.08","v":0.43},{"t":620,"c":"0.08","v":0.47},{"t":640,"c":"0.08","v":0.5},{"t":660,"c":"0.08","v":0.5},{"t":680,"c":"0.08","v":0.52},{"t":700,"c":"0.08","v":0.52},{"t":720,"c":"0.08","v":0.52},{"t":740,"c":"0.08","v":0.5},{"t":760,"c":"0.08","v":0.5},{"t":780,"c":"0.08","v":0.5},{"t":800,"c":"0.08","v":0.53},
{"t":-60,"c":"0.16","v":0.88},{"t":-40,"c":"0.16","v":0.93},{"t":-20,"c":"0.16","v":1.13},{"t":0,"c":"0.16","v":1.13},{"t":20,"c":"0.16","v":1.13},{"t":40,"c":"0.16","v":1.13},{"t":60,"c":"0.16","v":1.13},{"t":80,"c":"0.16","v":1.1},{"t":100,"c":"0.16","v":1.1},{"t":120,"c":"0.16","v":1.12},{"t":140,"c":"0.16","v":1.1},{"t":160,"c":"0.16","v":1.0},{"t":180,"c":"0.16","v":0.97},{"t":200,"c":"0.16","v":0.87},{"t":220,"c":"0.16","v":0.85},{"t":240,"c":"0.16","v":0.65},{"t":260,"c":"0.16","v":0.65},{"t":280,"c":"0.16","v":0.62},{"t":300,"c":"0.16","v":0.72},{"t":320,"c":"0.16","v":0.63},{"t":340,"c":"0.16","v":0.62},{"t":360,"c":"0.16","v":0.62},{"t":380,"c":"0.16","v":0.57},{"t":400,"c":"0.16","v":0.57},{"t":420,"c":"0.16","v":0.52},{"t":440,"c":"0.16","v":0.52},{"t":460,"c":"0.16","v":0.47},{"t":480,"c":"0.16","v":0.45},{"t":500,"c":"0.16","v":0.42},{"t":520,"c":"0.16","v":0.48},{"t":540,"c":"0.16","v":0.42},{"t":560,"c":"0.16","v":0.42},{"t":580,"c":"0.16","v":0.42},{"t":600,"c":"0.16","v":0.4},{"t":620,"c":"0.16","v":0.43},{"t":640,"c":"0.16","v":0.45},{"t":660,"c":"0.16","v":0.47},{"t":680,"c":"0.16","v":0.42},{"t":700,"c":"0.16","v":0.47},{"t":720,"c":"0.16","v":0.47},{"t":740,"c":"0.16","v":0.45},{"t":760,"c":"0.16","v":0.42},{"t":780,"c":"0.16","v":0.42},{"t":800,"c":"0.16","v":0.46},
{"t":-60,"c":"0.31","v":0.87},{"t":-40,"c":"0.31","v":0.87},{"t":-20,"c":"0.31","v":1.05},{"t":0,"c":"0.31","v":1.13},{"t":20,"c":"0.31","v":1.13},{"t":40,"c":"0.31","v":1.11},{"t":60,"c":"0.31","v":1.17},{"t":80,"c":"0.31","v":1.17},{"t":100,"c":"0.31","v":1.17},{"t":120,"c":"0.31","v":0.95},{"t":140,"c":"0.31","v":0.85},{"t":160,"c":"0.31","v":0.68},{"t":180,"c":"0.31","v":0.58},{"t":200,"c":"0.31","v":0.47},{"t":220,"c":"0.31","v":0.43},{"t":240,"c":"0.31","v":0.41},{"t":260,"c":"0.31","v":0.41},{"t":280,"c":"0.31","v":0.41},{"t":300,"c":"0.31","v":0.38},{"t":320,"c":"0.31","v":0.41},{"t":340,"c":"0.31","v":0.45},{"t":360,"c":"0.31","v":0.45},{"t":380,"c":"0.31","v":0.48},{"t":400,"c":"0.31","v":0.52},{"t":420,"c":"0.31","v":0.48},{"t":440,"c":"0.31","v":0.47},{"t":460,"c":"0.31","v":0.41},{"t":480,"c":"0.31","v":0.38},{"t":500,"c":"0.31","v":0.38},{"t":520,"c":"0.31","v":0.43},{"t":540,"c":"0.31","v":0.43},{"t":560,"c":"0.31","v":0.41},{"t":580,"c":"0.31","v":0.38},{"t":600,"c":"0.31","v":0.37},{"t":620,"c":"0.31","v":0.4},{"t":640,"c":"0.31","v":0.4},{"t":660,"c":"0.31","v":0.41},{"t":680,"c":"0.31","v":0.41},{"t":700,"c":"0.31","v":0.42},{"t":720,"c":"0.31","v":0.41},{"t":740,"c":"0.31","v":0.38},{"t":760,"c":"0.31","v":0.39},{"t":780,"c":"0.31","v":0.4},{"t":800,"c":"0.31","v":0.42},
{"t":-60,"c":"0.63","v":0.98},{"t":-40,"c":"0.63","v":1.13},{"t":-20,"c":"0.63","v":1.11},{"t":0,"c":"0.63","v":1.11},{"t":20,"c":"0.63","v":1.11},{"t":40,"c":"0.63","v":1.08},{"t":60,"c":"0.63","v":1.13},{"t":80,"c":"0.63","v":1.2},{"t":100,"c":"0.63","v":1.02},{"t":120,"c":"0.63","v":0.78},{"t":140,"c":"0.63","v":0.55},{"t":160,"c":"0.63","v":0.47},{"t":180,"c":"0.63","v":0.38},{"t":200,"c":"0.63","v":0.38},{"t":220,"c":"0.63","v":0.38},{"t":240,"c":"0.63","v":0.38},{"t":260,"c":"0.63","v":0.38},{"t":280,"c":"0.63","v":0.28},{"t":300,"c":"0.63","v":0.38},{"t":320,"c":"0.63","v":0.38},{"t":340,"c":"0.63","v":0.41},{"t":360,"c":"0.63","v":0.43},{"t":380,"c":"0.63","v":0.45},{"t":400,"c":"0.63","v":0.43},{"t":420,"c":"0.63","v":0.36},{"t":440,"c":"0.63","v":0.36},{"t":460,"c":"0.63","v":0.33},{"t":480,"c":"0.63","v":0.38},{"t":500,"c":"0.63","v":0.38},{"t":520,"c":"0.63","v":0.43},{"t":540,"c":"0.63","v":0.46},{"t":560,"c":"0.63","v":0.48},{"t":580,"c":"0.63","v":0.38},{"t":600,"c":"0.63","v":0.38},{"t":620,"c":"0.63","v":0.4},{"t":640,"c":"0.63","v":0.38},{"t":660,"c":"0.63","v":0.38},{"t":680,"c":"0.63","v":0.4},{"t":700,"c":"0.63","v":0.38},{"t":720,"c":"0.63","v":0.38},{"t":740,"c":"0.63","v":0.38},{"t":760,"c":"0.63","v":0.33},{"t":780,"c":"0.63","v":0.38},{"t":800,"c":"0.63","v":0.44},
{"t":-60,"c":"1.25","v":1.14},{"t":-40,"c":"1.25","v":1.14},{"t":-20,"c":"1.25","v":1.06},{"t":0,"c":"1.25","v":1.06},{"t":20,"c":"1.25","v":1.03},{"t":40,"c":"1.25","v":1.12},{"t":60,"c":"1.25","v":1.14},{"t":80,"c":"1.25","v":1.12},{"t":100,"c":"1.25","v":0.78},{"t":120,"c":"1.25","v":0.5},{"t":140,"c":"1.25","v":0.45},{"t":160,"c":"1.25","v":0.26},{"t":180,"c":"1.25","v":0.22},{"t":200,"c":"1.25","v":0.3},{"t":220,"c":"1.25","v":0.38},{"t":240,"c":"1.25","v":0.38},{"t":260,"c":"1.25","v":0.38},{"t":280,"c":"1.25","v":0.3},{"t":300,"c":"1.25","v":0.35},{"t":320,"c":"1.25","v":0.35},{"t":340,"c":"1.25","v":0.35},{"t":360,"c":"1.25","v":0.38},{"t":380,"c":"1.25","v":0.35},{"t":400,"c":"1.25","v":0.36},{"t":420,"c":"1.25","v":0.28},{"t":440,"c":"1.25","v":0.3},{"t":460,"c":"1.25","v":0.3},{"t":480,"c":"1.25","v":0.38},{"t":500,"c":"1.25","v":0.32},{"t":520,"c":"1.25","v":0.38},{"t":540,"c":"1.25","v":0.3},{"t":560,"c":"1.25","v":0.43},{"t":580,"c":"1.25","v":0.38},{"t":600,"c":"1.25","v":0.43},{"t":620,"c":"1.25","v":0.36},{"t":640,"c":"1.25","v":0.41},{"t":660,"c":"1.25","v":0.41},{"t":680,"c":"1.25","v":0.41},{"t":700,"c":"1.25","v":0.43},{"t":720,"c":"1.25","v":0.38},{"t":740,"c":"1.25","v":0.4},{"t":760,"c":"1.25","v":0.36},{"t":780,"c":"1.25","v":0.41},{"t":800,"c":"1.25","v":0.48},
{"t":-60,"c":"2.5","v":1.22},{"t":-40,"c":"2.5","v":1.22},{"t":-20,"c":"2.5","v":1.12},{"t":0,"c":"2.5","v":1.06},{"t":20,"c":"2.5","v":1.05},{"t":40,"c":"2.5","v":1.1},{"t":60,"c":"2.5","v":1.0},{"t":80,"c":"2.5","v":0.92},{"t":100,"c":"2.5","v":0.55},{"t":120,"c":"2.5","v":0.35},{"t":140,"c":"2.5","v":0.26},{"t":160,"c":"2.5","v":0.22},{"t":180,"c":"2.5","v":0.22},{"t":200,"c":"2.5","v":0.28},{"t":220,"c":"2.5","v":0.36},{"t":240,"c":"2.5","v":0.38},{"t":260,"c":"2.5","v":0.38},{"t":280,"c":"2.5","v":0.35},{"t":300,"c":"2.5","v":0.35},{"t":320,"c":"2.5","v":0.35},{"t":340,"c":"2.5","v":0.38},{"t":360,"c":"2.5","v":0.41},{"t":380,"c":"2.5","v":0.41},{"t":400,"c":"2.5","v":0.32},{"t":420,"c":"2.5","v":0.28},{"t":440,"c":"2.5","v":0.3},{"t":460,"c":"2.5","v":0.3},{"t":480,"c":"2.5","v":0.43},{"t":500,"c":"2.5","v":0.38},{"t":520,"c":"2.5","v":0.35},{"t":540,"c":"2.5","v":0.35},{"t":560,"c":"2.5","v":0.38},{"t":580,"c":"2.5","v":0.41},{"t":600,"c":"2.5","v":0.45},{"t":620,"c":"2.5","v":0.4},{"t":640,"c":"2.5","v":0.38},{"t":660,"c":"2.5","v":0.33},{"t":680,"c":"2.5","v":0.41},{"t":700,"c":"2.5","v":0.43},{"t":720,"c":"2.5","v":0.43},{"t":740,"c":"2.5","v":0.4},{"t":760,"c":"2.5","v":0.4},{"t":780,"c":"2.5","v":0.38},{"t":800,"c":"2.5","v":0.44},
{"t":-60,"c":"5","v":1.25},{"t":-40,"c":"5","v":1.25},{"t":-20,"c":"5","v":1.18},{"t":0,"c":"5","v":1.12},{"t":20,"c":"5","v":1.05},{"t":40,"c":"5","v":1.12},{"t":60,"c":"5","v":0.98},{"t":80,"c":"5","v":0.82},{"t":100,"c":"5","v":0.43},{"t":120,"c":"5","v":0.28},{"t":140,"c":"5","v":0.25},{"t":160,"c":"5","v":0.25},{"t":180,"c":"5","v":0.25},{"t":200,"c":"5","v":0.3},{"t":220,"c":"5","v":0.38},{"t":240,"c":"5","v":0.41},{"t":260,"c":"5","v":0.41},{"t":280,"c":"5","v":0.43},{"t":300,"c":"5","v":0.41},{"t":320,"c":"5","v":0.38},{"t":340,"c":"5","v":0.4},{"t":360,"c":"5","v":0.38},{"t":380,"c":"5","v":0.36},{"t":400,"c":"5","v":0.3},{"t":420,"c":"5","v":0.28},{"t":440,"c":"5","v":0.3},{"t":460,"c":"5","v":0.35},{"t":480,"c":"5","v":0.41},{"t":500,"c":"5","v":0.38},{"t":520,"c":"5","v":0.36},{"t":540,"c":"5","v":0.35},{"t":560,"c":"5","v":0.38},{"t":580,"c":"5","v":0.4},{"t":600,"c":"5","v":0.43},{"t":620,"c":"5","v":0.4},{"t":640,"c":"5","v":0.45},{"t":660,"c":"5","v":0.45},{"t":680,"c":"5","v":0.48},{"t":700,"c":"5","v":0.5},{"t":720,"c":"5","v":0.4},{"t":740,"c":"5","v":0.38},{"t":760,"c":"5","v":0.38},{"t":780,"c":"5","v":0.35},{"t":800,"c":"5","v":0.38}]
},
"vconcat":[
{"hconcat":[
{"width":268,"height":178,"title":{"text":"A","dx":-51,"offset":-2},"layer":[
{"data":{"name":"dose"},"mark":{"type":"line","strokeWidth":3,"clip":false},"encoding":{"x":{"field":"x","type":"quantitative","scale":{"type":"log","base":2,"nice":false,"domain":[0.2408,5.1]},"axis":{"values":[0.25,0.5,1,2,4],"labelExpr":"datum.value<1?format(datum.value,'.2f'):format(datum.value,'d')","title":"[Tm] (μg/ml)","labelFlush":false,"labelPadding":3,"titlePadding":8}},"y":{"field":"A","type":"quantitative","scale":{"type":"log","base":2,"nice":false,"domain":[0.707,16]},"axis":{"values":[1,2,4,8,16],"format":"d","title":null}},"color":{"field":"s","type":"nominal","scale":{"domain":["WT","ire1Δ","hac1Δ"],"range":["#000000","#ee2e1f","#1c44ee"]},"legend":{"title":null,"orient":"none","legendX":292,"legendY":51,"symbolSize":484,"clipHeight":21,"rowPadding":0,"labelOffset":10,"padding":0,"encode":{"symbols":{"update":{"shape":{"signal":"datum.value=='WT'?'M-1,-.14H1V.14H-1Z M-.32,0A.32,.32 0 1,1 .32,0A.32,.32 0 1,1 -.32,0Z':datum.value=='hac1Δ'?'M-1,-.14H1V.14H-1Z M0,-.36L.36,.27H-.36Z':'M-1,-.14H1V.14H-1Z M-.32,-.32H.32V.32H-.32Z'"},"fill":{"signal":"datum.value=='WT'?'#000000':datum.value=='hac1Δ'?'#1c44ee':'#ee2e1f'"},"strokeWidth":{"value":0},"opacity":{"value":1}}},"labels":{"update":{"fontStyle":{"signal":"datum.label=='WT'?'normal':'italic'"}}}}}}}},
{"data":{"name":"dose"},"mark":{"type":"point","filled":true,"opacity":1,"size":42,"clip":false},"encoding":{"x":{"field":"x","type":"quantitative"},"y":{"field":"A","type":"quantitative"},"shape":{"field":"s","type":"nominal","legend":null,"scale":{"domain":["WT","ire1Δ","hac1Δ"],"range":["circle","square","triangle-up"]}},"color":{"field":"s","type":"nominal"}}},
{"data":{"values":[{"s":"ERO1","x":0.33,"y":16}]},"mark":{"type":"text","align":"left","baseline":"middle","fontStyle":"italic","fontSize":14.5},"encoding":{"x":{"field":"x","type":"quantitative"},"y":{"field":"y","type":"quantitative"},"text":{"field":"s"}}},
{"data":{"values":[{"s":"\u00a0","x":0.2408,"y":16}]},"mark":{"type":"text","align":"left","dx":-56,"fontSize":10},"encoding":{"x":{"field":"x","type":"quantitative"},"y":{"field":"y","type":"quantitative"},"text":{"field":"s"}}},
{"data":{"values":[{"s":"P","x":0.2408,"y":0.84}]},"mark":{"type":"text","angle":270,"align":"left","baseline":"alphabetic","dy":-40,"fontSize":15},"encoding":{"x":{"field":"x","type":"quantitative"},"y":{"field":"y","type":"quantitative"},"text":{"field":"s"}}},
{"data":{"values":[{"s":"ERO1","x":0.2408,"y":1.0}]},"mark":{"type":"text","angle":270,"align":"left","baseline":"alphabetic","dy":-35,"fontSize":9,"fontStyle":"italic"},"encoding":{"x":{"field":"x","type":"quantitative"},"y":{"field":"y","type":"quantitative"},"text":{"field":"s"}}},
{"data":{"values":[{"s":"-GFP (fold change)","x":0.2408,"y":1.51}]},"mark":{"type":"text","angle":270,"align":"left","baseline":"alphabetic","dy":-40,"fontSize":14.7},"encoding":{"x":{"field":"x","type":"quantitative"},"y":{"field":"y","type":"quantitative"},"text":{"field":"s"}}}
]},
{"width":268,"height":178,"title":{"text":"B","dx":-52,"offset":-2},"layer":[
{"data":{"name":"dose"},"mark":{"type":"line","strokeWidth":3,"clip":false},"encoding":{"x":{"field":"x","type":"quantitative","scale":{"type":"log","base":2,"nice":false,"domain":[0.2435,5.06]},"axis":{"values":[0.25,0.5,1,2,4],"labelExpr":"datum.value<1?format(datum.value,'.2f'):format(datum.value,'d')","title":"[Tm] (μg/ml)","labelFlush":false,"labelPadding":3,"titlePadding":8}},"y":{"field":"B","type":"quantitative","scale":{"type":"log","base":2,"nice":false,"domain":[0.707,16]},"axis":{"values":[1,2,4,8,16],"format":"d","title":null}},"color":{"field":"s","type":"nominal","legend":null,"scale":{"domain":["WT","ire1Δ","hac1Δ"],"range":["#000000","#ee2e1f","#1c44ee"]}}}},
{"data":{"name":"dose"},"mark":{"type":"point","filled":true,"opacity":1,"size":42,"clip":false},"encoding":{"x":{"field":"x","type":"quantitative"},"y":{"field":"B","type":"quantitative"},"shape":{"field":"s","type":"nominal","legend":null,"scale":{"domain":["WT","ire1Δ","hac1Δ"],"range":["circle","square","triangle-up"]}},"color":{"field":"s","type":"nominal","legend":null,"scale":{"domain":["WT","ire1Δ","hac1Δ"],"range":["#000000","#ee2e1f","#1c44ee"]}}}},
{"data":{"values":[{"s":"HSP12","x":0.317,"y":16}]},"mark":{"type":"text","align":"left","baseline":"middle","fontStyle":"italic","fontSize":14.5},"encoding":{"x":{"field":"x","type":"quantitative"},"y":{"field":"y","type":"quantitative"},"text":{"field":"s"}}},
{"data":{"values":[{"s":"P","x":0.2435,"y":0.844}]},"mark":{"type":"text","angle":270,"align":"left","baseline":"alphabetic","dy":-34,"fontSize":15},"encoding":{"x":{"field":"x","type":"quantitative"},"y":{"field":"y","type":"quantitative"},"text":{"field":"s"}}},
{"data":{"values":[{"s":"HSP12","x":0.2435,"y":1.0}]},"mark":{"type":"text","angle":270,"align":"left","baseline":"alphabetic","dy":-29,"fontSize":9.5,"fontStyle":"italic"},"encoding":{"x":{"field":"x","type":"quantitative"},"y":{"field":"y","type":"quantitative"},"text":{"field":"s"}}},
{"data":{"values":[{"s":"-GFP (fold change)","x":0.2435,"y":1.7}]},"mark":{"type":"text","angle":270,"align":"left","baseline":"alphabetic","dy":-34,"fontSize":14.7},"encoding":{"x":{"field":"x","type":"quantitative"},"y":{"field":"y","type":"quantitative"},"text":{"field":"s"}}}
]}
],"spacing":173,"bounds":"flush"},
{"hconcat":[
{"width":268,"height":179,"title":{"text":"C","dx":-56,"offset":-7},"layer":[
{"data":{"name":"time"},"mark":{"type":"line","strokeWidth":3,"clip":false},"encoding":{"x":{"field":"t","type":"quantitative","scale":{"nice":false,"domain":[0,240]},"axis":{"values":[0,60,120,180,240],"title":"time (min)","labelFlush":false,"labelPadding":3,"titlePadding":5}},"y":{"field":"C","type":"quantitative","scale":{"type":"log","base":2,"nice":false,"domain":[0.797,16]},"axis":{"values":[1,2,4,8,16],"format":"d","title":null}},"color":{"field":"c","type":"nominal","scale":{"domain":["0","0.08","0.16","0.31","0.63","1.25","2.5","5"],"range":["#aaaaaa","#ee3018","#f7931e","#fff22d","#22d41f","#1c47e8","#8e3a9a","#000000"]},"legend":{"title":"Tm (μg/ml)","orient":"none","legendX":289,"legendY":-2,"symbolType":"stroke","symbolSize":484,"symbolStrokeWidth":3.5,"symbolOffset":13,"clipHeight":17.7,"rowPadding":0,"labelOffset":3,"titlePadding":7,"padding":0}}}},
{"data":{"values":[{"s":"ERO1","x":24,"y":16}]},"mark":{"type":"text","align":"left","baseline":"middle","fontStyle":"italic","fontSize":14.5},"encoding":{"x":{"field":"x","type":"quantitative"},"y":{"field":"y","type":"quantitative"},"text":{"field":"s"}}},
{"data":{"values":[{"s":"\u00a0","x":0,"y":0.797}]},"mark":{"type":"text","align":"left","dy":61,"fontSize":10},"encoding":{"x":{"field":"x","type":"quantitative"},"y":{"field":"y","type":"quantitative"},"text":{"field":"s"}}},
{"data":{"values":[{"s":"P","x":0,"y":0.943}]},"mark":{"type":"text","angle":270,"align":"left","baseline":"alphabetic","dy":-40,"fontSize":15},"encoding":{"x":{"field":"x","type":"quantitative"},"y":{"field":"y","type":"quantitative"},"text":{"field":"s"}}},
{"data":{"values":[{"s":"ERO1","x":0,"y":1.106}]},"mark":{"type":"text","angle":270,"align":"left","baseline":"alphabetic","dy":-35,"fontSize":9,"fontStyle":"italic"},"encoding":{"x":{"field":"x","type":"quantitative"},"y":{"field":"y","type":"quantitative"},"text":{"field":"s"}}},
{"data":{"values":[{"s":"-GFP (fold change)","x":0,"y":1.64}]},"mark":{"type":"text","angle":270,"align":"left","baseline":"alphabetic","dy":-40,"fontSize":14.7},"encoding":{"x":{"field":"x","type":"quantitative"},"y":{"field":"y","type":"quantitative"},"text":{"field":"s"}}}
]},
{"width":268,"height":179,"title":{"text":"D","dx":-52,"offset":-7},"layer":[
{"data":{"name":"time"},"mark":{"type":"line","strokeWidth":3,"clip":false},"encoding":{"x":{"field":"t","type":"quantitative","scale":{"nice":false,"domain":[0,240]},"axis":{"values":[0,30,60,90,120,150,180,210,240],"labelExpr":"datum.value%60==0?datum.label:''","tickSize":{"condition":{"test":"datum.value%60==0","value":7},"value":4},"title":"time (min)","labelFlush":false,"labelPadding":3,"titlePadding":5}},"y":{"field":"D","type":"quantitative","scale":{"type":"log","base":2,"nice":false,"domain":[0.707,16]},"axis":{"values":[1,2,4,8,16],"format":"d","title":null}},"color":{"field":"c","type":"nominal","legend":null,"scale":{"domain":["0","0.08","0.16","0.31","0.63","1.25","2.5","5"],"range":["#aaaaaa","#ee3018","#f7931e","#fff22d","#22d41f","#1c47e8","#8e3a9a","#000000"]}}}},
{"data":{"values":[{"s":"HSP12","x":20.6,"y":16}]},"mark":{"type":"text","align":"left","baseline":"middle","fontStyle":"italic","fontSize":14.5},"encoding":{"x":{"field":"x","type":"quantitative"},"y":{"field":"y","type":"quantitative"},"text":{"field":"s"}}},
{"data":{"values":[{"s":"P","x":0,"y":0.79}]},"mark":{"type":"text","angle":270,"align":"left","baseline":"alphabetic","dy":-32,"fontSize":15},"encoding":{"x":{"field":"x","type":"quantitative"},"y":{"field":"y","type":"quantitative"},"text":{"field":"s"}}},
{"data":{"values":[{"s":"HSP12","x":0,"y":0.944}]},"mark":{"type":"text","angle":270,"align":"left","baseline":"alphabetic","dy":-27,"fontSize":9.5,"fontStyle":"italic"},"encoding":{"x":{"field":"x","type":"quantitative"},"y":{"field":"y","type":"quantitative"},"text":{"field":"s"}}},
{"data":{"values":[{"s":"-GFP (fold change)","x":0,"y":1.57}]},"mark":{"type":"text","angle":270,"align":"left","baseline":"alphabetic","dy":-32,"fontSize":14.7},"encoding":{"x":{"field":"x","type":"quantitative"},"y":{"field":"y","type":"quantitative"},"text":{"field":"s"}}}
]}
],"spacing":173,"bounds":"flush"},
{"vconcat":[
{"width":158,"height":17,"title":{"text":"E","dx":-56,"offset":-39},"layer":[
{"data":{"name":"bar"},"mark":{"type":"rule","strokeWidth":2.2},"encoding":{"x":{"field":"v","type":"quantitative","scale":{"nice":false,"domain":[0,2]},"axis":{"orient":"top","labels":false,"ticks":false,"domain":false,"title":"expression rate (a.u./hr)","titleAnchor":"start","titlePadding":6}},"color":{"field":"v","type":"quantitative","legend":null,"scale":{"domain":[0,0.25,0.75,1.25,1.75,2],"range":["#00007f","#0000ff","#00ffff","#ffff00","#ff0000","#7f0000"]}}}},
{"data":{"values":[{"s":"0","v":0}]},"mark":{"type":"text","align":"right","dx":-4,"fontSize":15},"encoding":{"x":{"field":"v","type":"quantitative"},"text":{"field":"s"}}},
{"data":{"values":[{"s":"2","v":2}]},"mark":{"type":"text","align":"left","dx":4,"fontSize":15},"encoding":{"x":{"field":"v","type":"quantitative"},"text":{"field":"s"}}}
]},
{"width":710,"height":130,"layer":[
{"data":{"name":"ero"},"mark":{"type":"rect","strokeWidth":0.4},"encoding":{"x":{"field":"t","type":"ordinal","scale":{"paddingInner":0,"paddingOuter":0,"domain":[-60,-40,-20,0,20,40,60,80,100,120,140,160,180,200,220,240,260,280,300,320,340,360,380,400,420,440,460,480,500,520,540,560,580,600,620,640,660,680,700,720,740,760,780,800]},"axis":null},"y":{"field":"c","type":"ordinal","scale":{"paddingInner":0,"paddingOuter":0,"domain":["0","0.08","0.16","0.31","0.63","1.25","2.5","5"]},"axis":{"title":"Tm (μg/mL)","ticks":false,"domain":false,"labelPadding":4,"labelFontSize":14.5,"titlePadding":6}},"color":{"field":"v","type":"quantitative","legend":null,"scale":{"domain":[0,0.25,0.75,1.25,1.75,2],"range":["#00007f","#0000ff","#00ffff","#ffff00","#ff0000","#7f0000"]}},"stroke":{"field":"v","type":"quantitative","legend":null,"scale":{"domain":[0,0.25,0.75,1.25,1.75,2],"range":["#00007f","#0000ff","#00ffff","#ffff00","#ff0000","#7f0000"]}}}},
{"data":{"values":[{"s":"ERO1","t":-40,"c":"0.08"}]},"mark":{"type":"text","align":"left","dx":3,"fontStyle":"italic","fontWeight":"bold","fontSize":14.5,"color":"#eaffff"},"encoding":{"x":{"field":"t","type":"ordinal"},"y":{"field":"c","type":"ordinal"},"text":{"field":"s"}}}
]},
{"width":710,"height":130,"layer":[
{"data":{"name":"hsp"},"mark":{"type":"rect","strokeWidth":0.4},"encoding":{"x":{"field":"t","type":"ordinal","scale":{"paddingInner":0,"paddingOuter":0,"domain":[-60,-40,-20,0,20,40,60,80,100,120,140,160,180,200,220,240,260,280,300,320,340,360,380,400,420,440,460,480,500,520,540,560,580,600,620,640,660,680,700,720,740,760,780,800]},"axis":null},"y":{"field":"c","type":"ordinal","scale":{"paddingInner":0,"paddingOuter":0,"domain":["0","0.08","0.16","0.31","0.63","1.25","2.5","5"]},"axis":{"title":"Tm (μg/mL)","ticks":false,"domain":false,"labelPadding":4,"labelFontSize":14.5,"titlePadding":6}},"color":{"field":"v","type":"quantitative","legend":null,"scale":{"domain":[0,0.25,0.75,1.25,1.75,2],"range":["#00007f","#0000ff","#00ffff","#ffff00","#ff0000","#7f0000"]}},"stroke":{"field":"v","type":"quantitative","legend":null,"scale":{"domain":[0,0.25,0.75,1.25,1.75,2],"range":["#00007f","#0000ff","#00ffff","#ffff00","#ff0000","#7f0000"]}}}},
{"data":{"values":[{"s":"HSP12","t":-40,"c":"0.08"}]},"mark":{"type":"text","align":"left","dx":3,"fontStyle":"italic","fontWeight":"bold","fontSize":14.5,"color":"#eaffff"},"encoding":{"x":{"field":"t","type":"ordinal"},"y":{"field":"c","type":"ordinal"},"text":{"field":"s"}}}
]},
{"width":710,"height":130,"layer":[
{"data":{"name":"rpl"},"mark":{"type":"rect","strokeWidth":0.4},"encoding":{"x":{"field":"t","type":"ordinal","scale":{"paddingInner":0,"paddingOuter":0,"domain":[-60,-40,-20,0,20,40,60,80,100,120,140,160,180,200,220,240,260,280,300,320,340,360,380,400,420,440,460,480,500,520,540,560,580,600,620,640,660,680,700,720,740,760,780,800]},"axis":{"values":[-60,0,60,120,180,240,300,360,420,480,540,600,660,720,780],"bandPosition":0,"labelAngle":0,"ticks":false,"domain":false,"labelExpr":"replace(datum.label,'-','–')","labelFontSize":14.5,"labelPadding":5,"title":"time (min)","titlePadding":4}},"y":{"field":"c","type":"ordinal","scale":{"paddingInner":0,"paddingOuter":0,"domain":["0","0.08","0.16","0.31","0.63","1.25","2.5","5"]},"axis":{"title":"Tm (μg/mL)","ticks":false,"domain":false,"labelPadding":4,"labelFontSize":14.5,"titlePadding":6}},"color":{"field":"v","type":"quantitative","legend":null,"scale":{"domain":[0,0.25,0.75,1.25,1.75,2],"range":["#00007f","#0000ff","#00ffff","#ffff00","#ff0000","#7f0000"]}},"stroke":{"field":"v","type":"quantitative","legend":null,"scale":{"domain":[0,0.25,0.75,1.25,1.75,2],"range":["#00007f","#0000ff","#00ffff","#ffff00","#ff0000","#7f0000"]}}}},
{"data":{"values":[{"s":"RPL17A","t":-40,"c":"0.08"}]},"mark":{"type":"text","align":"left","dx":3,"fontStyle":"italic","fontWeight":"bold","fontSize":14.5,"color":"#001010"},"encoding":{"x":{"field":"t","type":"ordinal"},"y":{"field":"c","type":"ordinal"},"text":{"field":"s"}}}
]}
],"spacing":12,"bounds":"flush"}
]}
